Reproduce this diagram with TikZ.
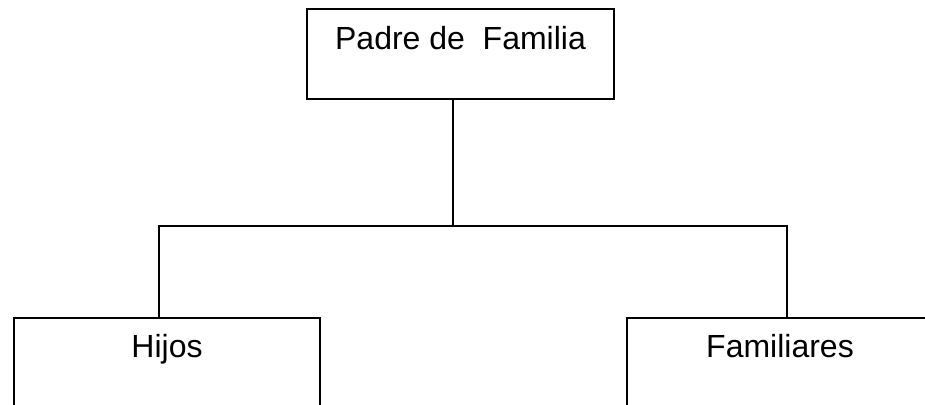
\documentclass[tikz,border=0pt]{standalone}
\usepackage{fontspec}
\setmainfont{Liberation Sans}
\begin{document}
\begin{tikzpicture}[x=1pt,y=1pt,
  box/.style={draw=black, line width=2pt, rectangle, inner sep=0pt,
    font=\fontsize{32}{38}\selectfont, anchor=north west},
  link/.style={draw=black, line width=2pt}]
\useasboundingbox (0,0) rectangle (925,404);
\clip (0,0) rectangle (925,404);
\node[box, minimum width=307pt, text height=41pt, text depth=49pt] (top) at (306,396) {Padre de\ \ Familia};
\node[box, minimum width=306pt, text height=39pt, text depth=140pt] (hijos) at (13,87) {Hijos};
\node[box, minimum width=306pt, text height=39pt, text depth=140pt] (fam) at (626,87) {Familiares};
\coordinate (j) at (453,178);
\coordinate (jl) at (159,178);
\coordinate (jr) at (787,178);
\draw[link] (top.south -| j) -- (j);
\draw[link] (hijos.north -| jl) -- (jl) -- (jr) -- (fam.north -| jr);
\end{tikzpicture}
\end{document}
